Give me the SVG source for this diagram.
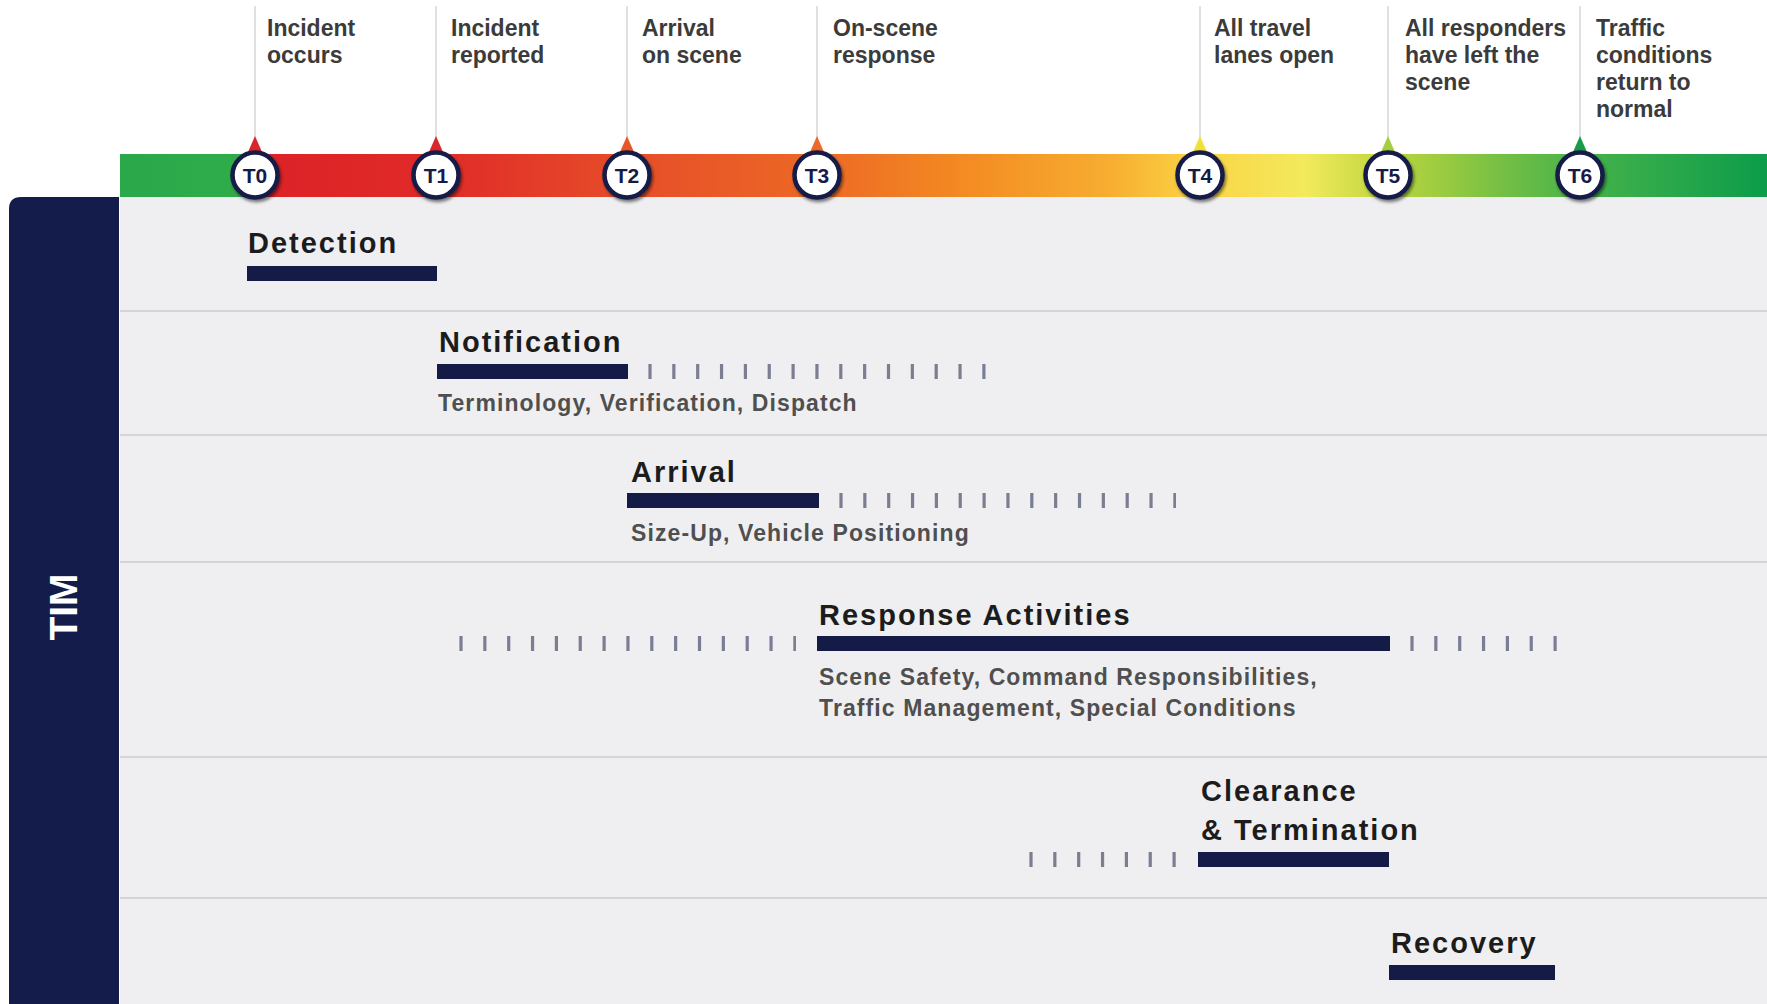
<svg xmlns="http://www.w3.org/2000/svg" width="1767" height="1004" viewBox="0 0 1767 1004">
  <defs>
    <linearGradient id="barGrad" gradientUnits="userSpaceOnUse" x1="120" y1="0" x2="1767" y2="0">
      <stop offset="0" stop-color="#2aa84a"/>
      <stop offset="0.0808" stop-color="#30ad4a"/>
      <stop offset="0.0815" stop-color="#dc2227"/>
      <stop offset="0.19" stop-color="#e02a28"/>
      <stop offset="0.308" stop-color="#e64d29"/>
      <stop offset="0.423" stop-color="#ed6825"/>
      <stop offset="0.51" stop-color="#f38a22"/>
      <stop offset="0.6" stop-color="#f7ad30"/>
      <stop offset="0.655" stop-color="#fbd445"/>
      <stop offset="0.72" stop-color="#f2ea5c"/>
      <stop offset="0.77" stop-color="#bcd63d"/>
      <stop offset="0.84" stop-color="#74bf44"/>
      <stop offset="0.89" stop-color="#45b24a"/>
      <stop offset="1" stop-color="#0c9c4a"/>
    </linearGradient>
    <filter id="shadow" x="-40%" y="-40%" width="180%" height="180%">
      <feDropShadow dx="1.5" dy="2.5" stdDeviation="1.6" flood-color="#000" flood-opacity="0.5"/>
    </filter>
    <style>
      .lbl { font-family: "Liberation Sans", Arial, sans-serif; font-weight: bold; font-size: 23px; fill: #3b3b3b; }
      .tnum { font-family: "Liberation Sans", Arial, sans-serif; font-weight: bold; font-size: 21px; fill: #141b47; text-anchor: middle; }
      .ring { fill: #ffffff; stroke: #141b47; stroke-width: 4.5; }
      .title { font-family: "Liberation Sans", Arial, sans-serif; font-weight: bold; font-size: 29px; fill: #1c1c1c; letter-spacing: 2px; }
      .sub { font-family: "Liberation Sans", Arial, sans-serif; font-weight: bold; font-size: 23px; fill: #4f4f4f; letter-spacing: 1.1px; }
      .bar { fill: #141b47; }
      .ticks { stroke: #7b7e92; stroke-width: 15; stroke-dasharray: 3.2 20.65; fill: none; }
      .sep { stroke: #d5d5d9; stroke-width: 2; }
      .leader { stroke: #d6d6d6; stroke-width: 1.5; }
    </style>
  </defs>

  <rect x="0" y="0" width="1767" height="1004" fill="#ffffff"/>

  <!-- content area -->
  <rect x="120" y="197" width="1647" height="807" fill="#efeff1"/>
  <g id="separators">
    <line class="sep" x1="120" y1="311" x2="1767" y2="311"/>
    <line class="sep" x1="120" y1="435" x2="1767" y2="435"/>
    <line class="sep" x1="120" y1="562" x2="1767" y2="562"/>
    <line class="sep" x1="120" y1="757" x2="1767" y2="757"/>
    <line class="sep" x1="120" y1="898" x2="1767" y2="898"/>
  </g>

  <!-- TIM side panel -->
  <g id="tim-panel">
    <path d="M9 1004 V209 Q9 197 21 197 H119 V1004 Z" fill="#141c4b"/>
    <text x="0" y="0" transform="translate(77 607) rotate(-90)" text-anchor="middle" font-family="'Liberation Sans', Arial, sans-serif" font-weight="bold" font-size="39" fill="#ffffff">TIM</text>
  </g>

  <!-- timeline bar -->
  <rect id="timeline-bar" x="120" y="154" width="1647" height="43" fill="url(#barGrad)"/>

  <!-- leader lines -->
  <g id="connectors">
    <line class="leader" x1="255" y1="6" x2="255" y2="140"/>
    <line class="leader" x1="436" y1="6" x2="436" y2="140"/>
    <line class="leader" x1="627" y1="6" x2="627" y2="140"/>
    <line class="leader" x1="817" y1="6" x2="817" y2="140"/>
    <line class="leader" x1="1200" y1="6" x2="1200" y2="140"/>
    <line class="leader" x1="1388" y1="6" x2="1388" y2="140"/>
    <line class="leader" x1="1580" y1="6" x2="1580" y2="140"/>
  </g>

  <!-- markers -->
  <g id="T0">
    <polygon points="248,152 255,136 262,152" fill="#d9262b"/>
    <circle class="ring" cx="255" cy="175" r="22.5" filter="url(#shadow)"/>
    <text class="tnum" x="255" y="182.5">T0</text>
    <text class="lbl" x="267" y="36">Incident</text>
    <text class="lbl" x="267" y="63">occurs</text>
  </g>
  <g id="T1">
    <polygon points="429,152 436,136 443,152" fill="#d9262b"/>
    <circle class="ring" cx="436" cy="175" r="22.5" filter="url(#shadow)"/>
    <text class="tnum" x="436" y="182.5">T1</text>
    <text class="lbl" x="451" y="36">Incident</text>
    <text class="lbl" x="451" y="63">reported</text>
  </g>
  <g id="T2">
    <polygon points="620,152 627,136 634,152" fill="#e8572a"/>
    <circle class="ring" cx="627" cy="175" r="22.5" filter="url(#shadow)"/>
    <text class="tnum" x="627" y="182.5">T2</text>
    <text class="lbl" x="642" y="36">Arrival</text>
    <text class="lbl" x="642" y="63">on scene</text>
  </g>
  <g id="T3">
    <polygon points="810,152 817,136 824,152" fill="#ec6a2a"/>
    <circle class="ring" cx="817" cy="175" r="22.5" filter="url(#shadow)"/>
    <text class="tnum" x="817" y="182.5">T3</text>
    <text class="lbl" x="833" y="36">On-scene</text>
    <text class="lbl" x="833" y="63">response</text>
  </g>
  <g id="T4">
    <polygon points="1193,152 1200,136 1207,152" fill="#f0e03a"/>
    <circle class="ring" cx="1200" cy="175" r="22.5" filter="url(#shadow)"/>
    <text class="tnum" x="1200" y="182.5">T4</text>
    <text class="lbl" x="1214" y="36">All travel</text>
    <text class="lbl" x="1214" y="63">lanes open</text>
  </g>
  <g id="T5">
    <polygon points="1381,152 1388,136 1395,152" fill="#a5cd3c"/>
    <circle class="ring" cx="1388" cy="175" r="22.5" filter="url(#shadow)"/>
    <text class="tnum" x="1388" y="182.5">T5</text>
    <text class="lbl" x="1405" y="36">All responders</text>
    <text class="lbl" x="1405" y="63">have left the</text>
    <text class="lbl" x="1405" y="90">scene</text>
  </g>
  <g id="T6">
    <polygon points="1573,152 1580,136 1587,152" fill="#1a9b4a"/>
    <circle class="ring" cx="1580" cy="175" r="22.5" filter="url(#shadow)"/>
    <text class="tnum" x="1580" y="182.5">T6</text>
    <text class="lbl" x="1596" y="36">Traffic</text>
    <text class="lbl" x="1596" y="63">conditions</text>
    <text class="lbl" x="1596" y="90">return to</text>
    <text class="lbl" x="1596" y="117">normal</text>
  </g>

  <!-- phases -->
  <g id="detection">
    <text class="title" x="248" y="253">Detection</text>
    <rect class="bar" x="247" y="266" width="190" height="15"/>
  </g>
  <g id="notification">
    <text class="title" x="439" y="352">Notification</text>
    <rect class="bar" x="437" y="364" width="191" height="15"/>
    <line class="ticks" x1="648.4" y1="371.5" x2="986" y2="371.5"/>
    <text class="sub" x="438" y="411">Terminology, Verification, Dispatch</text>
  </g>
  <g id="arrival">
    <text class="title" x="631" y="482">Arrival</text>
    <rect class="bar" x="627" y="493" width="192" height="15"/>
    <line class="ticks" x1="839.4" y1="500.5" x2="1176" y2="500.5"/>
    <text class="sub" x="631" y="541">Size-Up, Vehicle Positioning</text>
  </g>
  <g id="response-activities">
    <line class="ticks" x1="459.4" y1="643.5" x2="796" y2="643.5"/>
    <text class="title" x="819" y="625">Response Activities</text>
    <rect class="bar" x="817" y="636" width="573" height="15"/>
    <line class="ticks" x1="1410.4" y1="643.5" x2="1557" y2="643.5"/>
    <text class="sub" x="819" y="685">Scene Safety, Command Responsibilities,</text>
    <text class="sub" x="819" y="716">Traffic Management, Special Conditions</text>
  </g>
  <g id="clearance-termination">
    <text class="title" x="1201" y="801">Clearance</text>
    <text class="title" x="1201" y="840">&amp; Termination</text>
    <line class="ticks" x1="1029.4" y1="859.5" x2="1177" y2="859.5"/>
    <rect class="bar" x="1198" y="852" width="191" height="15"/>
  </g>
  <g id="recovery">
    <text class="title" x="1391" y="953">Recovery</text>
    <rect class="bar" x="1389" y="965" width="166" height="15"/>
  </g>
</svg>
